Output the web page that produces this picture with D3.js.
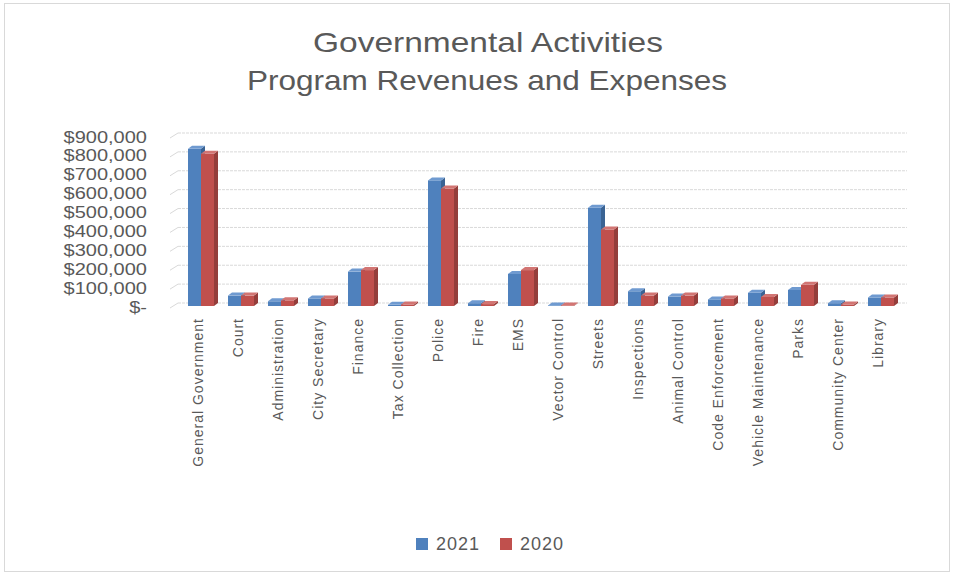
<!DOCTYPE html>
<html>
<head>
<meta charset="utf-8">
<script src="https://cdn.jsdelivr.net/npm/d3@7"></script>
<style>
  body { margin: 0; background: #fff; }
  svg { display: block; }
  text { font-family: "Liberation Sans", Arial, sans-serif; fill: #595959; }
</style>
</head>
<body>
<div class="chart"></div>
<script>
// chart values
var categories = ["General Government", "Court", "Administration", "City Secretary", "Finance",
  "Tax Collection", "Police", "Fire", "EMS", "Vector Control", "Streets", "Inspections",
  "Animal Control", "Code Enforcement", "Vehicle Maintenance", "Parks", "Community Center", "Library"];
var series = ["2021", "2020"];
var values2021 = [832000, 55000, 25000, 40000, 182000, 6000, 665000, 15000, 170000, 3000, 520000, 78000, 50000, 35000, 70000, 85000, 15000, 45000];
var values2020 = [806000, 55000, 30000, 40000, 190000, 8000, 622000, 10000, 190000, 3000, 405000, 55000, 55000, 40000, 48000, 112000, 8000, 45000];
var yTicks = [0, 100000, 200000, 300000, 400000, 500000, 600000, 700000, 800000, 900000];
var colors = ["#4F81BD", "#C0504D"];
var sideColors = ["#3A6393", "#943E3B"];
var topColors = ["#6F9AD0", "#D27573"];

var W = 954, H = 575;
var svg = d3.select("div.chart").append("svg")
  .attr("width", W)
  .attr("height", H);

// outer chart border
svg.append("rect")
  .attr("x", 4.5).attr("y", 3.5)
  .attr("width", 945).attr("height", 568)
  .attr("fill", "#fff")
  .attr("stroke", "#d9d9d9");

// title
svg.append("text")
  .attr("x", 488).attr("y", 52)
  .attr("text-anchor", "middle")
  .attr("font-size", 28)
  .attr("textLength", 350).attr("lengthAdjust", "spacingAndGlyphs")
  .text("Governmental Activities");
svg.append("text")
  .attr("x", 487).attr("y", 90)
  .attr("text-anchor", "middle")
  .attr("font-size", 28)
  .attr("textLength", 480).attr("lengthAdjust", "spacingAndGlyphs")
  .text("Program Revenues and Expenses");

// scales (back wall)
var y = d3.scaleLinear().domain([0, 900000]).range([303, 133]);
var x = d3.scaleBand().domain(categories).range([181, 901]);
var groupW = 26;
var xs = d3.scaleBand().domain(series)
  .range([(x.bandwidth() - groupW) / 2, (x.bandwidth() + groupW) / 2]);

var depthX = 4, depthY = 3; // 3d offset

// gridlines: back wall + side wall
var grid = svg.append("g");
grid.selectAll(".back")
  .data(yTicks)
  .enter()
  .append("line")
  .attr("x1", 178).attr("x2", 907)
  .attr("y1", d => y(d)).attr("y2", d => y(d))
  .attr("stroke", "#d9d9d9")
  .attr("stroke-dasharray", "3,1");
grid.selectAll(".side")
  .data(yTicks)
  .enter()
  .append("line")
  .attr("x1", 170).attr("x2", 178)
  .attr("y1", d => y(d) + 5).attr("y2", d => y(d))
  .attr("stroke", "#d9d9d9");

// y labels (stretched sideways so they stay narrow in height)
svg.append("g").selectAll("text")
  .data(yTicks)
  .enter()
  .append("text")
  .attr("transform", d => "translate(147," + (y(d) + 4) + ") scale(1.25,1)")
  .attr("dy", "0.35em")
  .attr("text-anchor", "end")
  .attr("font-size", 16)
  .text(d => d === 0 ? "$-" : d3.format("$,")(d));

// bars
var rows = categories.map(function(c, i) {
  return { cat: c, vals: [values2021[i], values2020[i]] };
});
var base = y(0) + depthY;
var groups = svg.append("g").selectAll("g")
  .data(rows)
  .enter()
  .append("g")
  .attr("transform", d => "translate(" + x(d.cat) + ",0)");

series.forEach(function(s, si) {
  var bw = xs.bandwidth();
  // right side face
  groups.append("path")
    .attr("d", function(d) {
      var x0 = xs(s) + bw, top = y(d.vals[si]) + depthY;
      return "M" + x0 + "," + top + "L" + (x0 + depthX) + "," + (top - depthY) +
        "L" + (x0 + depthX) + "," + (base - depthY) + "L" + x0 + "," + base + "Z";
    })
    .attr("fill", sideColors[si]);
  // front face
  groups.append("rect")
    .attr("x", xs(s))
    .attr("width", bw)
    .attr("y", d => y(d.vals[si]) + depthY)
    .attr("height", d => base - y(d.vals[si]) - depthY)
    .attr("fill", colors[si]);
  // top face
  groups.append("path")
    .attr("d", function(d) {
      var x0 = xs(s), top = y(d.vals[si]) + depthY;
      return "M" + x0 + "," + top + "L" + (x0 + depthX) + "," + (top - depthY) +
        "L" + (x0 + bw + depthX) + "," + (top - depthY) + "L" + (x0 + bw) + "," + top + "Z";
    })
    .attr("fill", topColors[si]);
});

// category labels
svg.append("g").selectAll("text")
  .data(categories)
  .enter()
  .append("text")
  .attr("transform", d => "translate(" + (x(d) + x.bandwidth() / 2 - 3) + ",318) rotate(-90)")
  .attr("dy", "0.35em")
  .attr("text-anchor", "end")
  .attr("font-size", 14)
  .attr("letter-spacing", 1)
  .text(d => d);

// legend
var legend = svg.append("g").selectAll("g")
  .data(series)
  .enter()
  .append("g")
  .attr("transform", (d, i) => "translate(" + (416 + i * 84) + ",538)");
legend.append("rect")
  .attr("width", 12).attr("height", 12)
  .attr("fill", (d, i) => colors[i]);
legend.append("text")
  .attr("x", 20).attr("y", 6)
  .attr("dy", "0.35em")
  .attr("font-size", 18)
  .attr("letter-spacing", 1)
  .text(d => d);
</script>
</body>
</html>
